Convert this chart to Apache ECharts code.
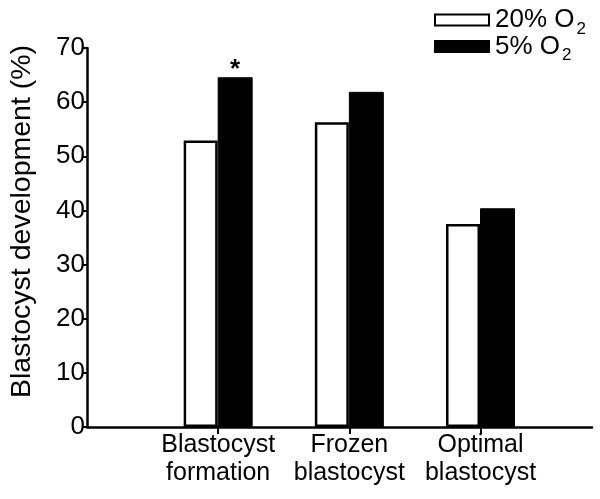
<!DOCTYPE html>
<html><head><meta charset="utf-8">
<script src="https://cdn.jsdelivr.net/npm/echarts@6/dist/echarts.min.js"></script>
<style>html,body{margin:0;padding:0;background:#fff}#c{width:600px;height:499px}</style>
</head><body><div id="c"></div>
<script>
const categories = ['Blastocyst\nformation', 'Frozen\nblastocyst', 'Optimal\nblastocyst'];
const positions = [1, 2, 3];
const seriesNames = ['20% O2', '5% O2'];
const o2_20 = [52.9, 56.3, 37.5];
const o2_5 = [64.6, 61.9, 40.4];
const significance = ['*', '', ''];
const yTicks = [0, 10, 20, 30, 40, 50, 60, 70];
const yTitle = 'Blastocyst development (%)';

const FONT = 'Liberation Sans, Arial, sans-serif';
const chart = echarts.init(document.getElementById('c'));
const toData = vals => vals.map((v, i) => [positions[i], v]);

chart.setOption({
  animation: false,
  backgroundColor: '#fff',
  textStyle: { fontFamily: FONT, color: '#000' },
  grid: { left: 81, right: 8, top: 48, bottom: 72, containLabel: false },
  legend: {
    orient: 'vertical', left: 429, top: 1,
    itemWidth: 54, itemHeight: 11, itemGap: -5,
    icon: 'rect',
    data: seriesNames,
    formatter: n => n.replace('O2', 'O{s|2}'),
    textStyle: {
      fontFamily: FONT, fontSize: 26, color: '#000', lineHeight: 28, padding: [0, 0, 0, 1],
      rich: { s: { fontFamily: FONT, fontSize: 17, color: '#000', padding: [18, 0, 0, 2] } }
    }
  },
  xAxis: {
    type: 'value', min: 0, max: 3.85, interval: 1,
    axisLine: { show: true, lineStyle: { color: '#000', width: 2.5 } },
    axisTick: { show: true, length: 7, lineStyle: { color: '#000', width: 2 }, customValues: positions },
    axisLabel: {
      customValues: positions,
      formatter: v => categories[positions.indexOf(Math.round(v))] || '',
      fontFamily: FONT, fontSize: 25, color: '#000', lineHeight: 28, margin: 4
    },
    splitLine: { show: false }
  },
  yAxis: {
    type: 'value', min: 0, max: 70, interval: 10,
    name: yTitle, nameLocation: 'middle', nameRotate: 90, nameGap: 50,
    nameTextStyle: { fontFamily: FONT, fontSize: 28.5, color: '#000', padding: [0, 0, 0, 32] },
    axisLine: { show: true, lineStyle: { color: '#000', width: 2.5 } },
    axisTick: { show: true, length: 5, lineStyle: { color: '#000', width: 2 } },
    axisLabel: { fontFamily: FONT, fontSize: 26, color: '#000', margin: 2 },
    splitLine: { show: false }
  },
  series: [
    {
      name: seriesNames[0], type: 'bar', data: toData(o2_20),
      barWidth: 34, barGap: '0%',
      itemStyle: { color: '#fff', borderColor: '#000', borderWidth: 2.5 }
    },
    {
      name: seriesNames[1], type: 'bar', data: toData(o2_5),
      barWidth: 35, barGap: '0%',
      itemStyle: { color: '#000', borderColor: '#000', borderWidth: 1 },
      label: {
        show: true, position: 'top', distance: -6,
        formatter: p => significance[p.dataIndex],
        fontFamily: FONT, fontSize: 26, fontWeight: 'bold', color: '#000'
      }
    }
  ]
});
</script></body></html>
